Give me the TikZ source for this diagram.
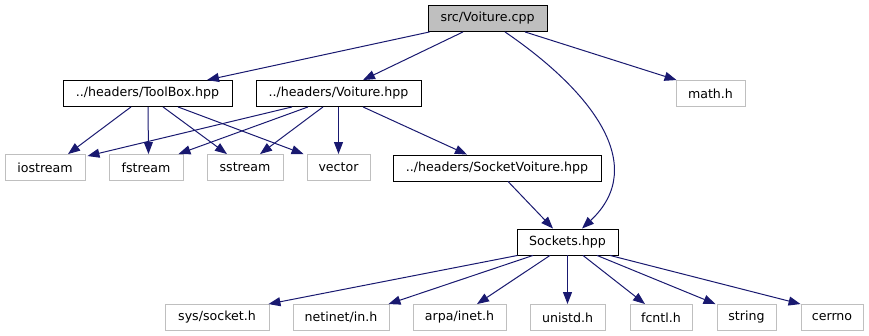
\documentclass[tikz,border=0pt]{standalone}
\usepackage{fontspec}
\setmainfont{DejaVu Sans}
\usetikzlibrary{arrows.meta}
\definecolor{dotblue}{HTML}{191970}
\definecolor{dotgray}{HTML}{BFBFBF}

\begin{document}
\begin{tikzpicture}[x=1pt, y=-1pt]
        \tikzstyle{fis} = [draw=black, line width=0.9pt, inner sep=0pt, minimum height=26pt, font=\fontsize{12.6}{14}\selectfont]
        \tikzstyle{sis} = [fis, draw=dotgray]
        \tikzstyle{rad} = [fis, fill=dotgray]
        \tikzstyle{dep} = [-{Triangle[length=12pt, width=9pt]}, draw=dotblue, line width=1pt]

        \useasboundingbox (0,0) rectangle (869,336);

        % The source file.
        \node[rad, minimum width=119pt] (cpp) at (487.5,18.5) {src/Voiture.cpp};

        % Project headers.
        \foreach \nume/\x/\y/\w/\txt in {
                toolbox/147.5/93.5/169/{../headers/ToolBox.hpp},
                  voith/338.5/93.5/165/{../headers/Voiture.hpp},
                  sockv/497/168/208/{../headers/SocketVoiture.hpp},
                sockets/567.5/242/101/{Sockets.hpp}}
            \node[fis, minimum width=\w pt] (\nume) at (\x,\y) {\txt};

        % System headers.
        \foreach \nume/\x/\y/\w/\txt in {
                   math/710.5/93.5/69/{math.h},
               iostream/45/167.5/80/{iostream},
                fstream/146/167.5/74/{fstream},
                sstream/245/167.5/76/{sstream},
                 vector/338.5/167.5/63/{vector},
                syssock/217/317.5/104/{sys/socket.h},
                netinet/341/317.5/96/{netinet/in.h},
                   arpa/459.5/317.5/93/{arpa/inet.h},
                 unistd/567.5/317.5/75/{unistd.h},
                  fcntl/661/317.5/62/{fcntl.h},
                 string/746.5/317.5/59/{string},
                 cerrno/832/317.5/62/{cerrno}}
            \node[sis, minimum width=\w pt] (\nume) at (\x,\y) {\txt};

        % Includes of src/Voiture.cpp.
        \draw[dep] ([xshift=2]cpp.south west) -- ([xshift=59.5]toolbox.north);
        \draw[dep] ([xshift=-24.5]cpp.south) -- ([xshift=24.5]voith.north);
        \draw[dep] ([xshift=37.5]cpp.south) -- ([xshift=1]math.north west);
        \draw[dep] ([xshift=17.5]cpp.south) .. controls (590,90) and (650,165) .. ([xshift=14.5]sockets.north);

        % Includes of ToolBox.hpp.
        \draw[dep] ([xshift=-16.5]toolbox.south) -- ([xshift=23]iostream.north);
        \draw[dep] ([xshift=0.5]toolbox.south) -- ([xshift=2.5]fstream.north);
        \draw[dep] ([xshift=15.5]toolbox.south) -- ([xshift=-18]sstream.north);
        \draw[dep] ([xshift=30.5]toolbox.south) -- ([xshift=-3]vector.north west);

        % Includes of Voiture.hpp.
        \draw[dep] ([xshift=-46.5]voith.south) -- ([xshift=2, yshift=-2]iostream.north east);
        \draw[dep] ([xshift=-30.5]voith.south) -- ([xshift=-5]fstream.north east);
        \draw[dep] ([xshift=-15.5]voith.south) -- ([xshift=15]sstream.north);
        \draw[dep] (voith) -- (vector);
        \draw[dep] ([xshift=24.5]voith.south) -- ([xshift=-30]sockv.north);

        % Includes of SocketVoiture.hpp.
        \draw[dep] ([xshift=11]sockv.south) -- ([xshift=-14.5]sockets.north);

        % Includes of Sockets.hpp.
        \draw[dep] ([xshift=1]sockets.south west) -- ([xshift=-1]syssock.north east);
        \draw[dep] ([xshift=-34.5]sockets.south) -- ([xshift=-1]netinet.north east);
        \draw[dep] ([xshift=-17.5]sockets.south) -- ([xshift=17.5]arpa.north);
        \draw[dep] (sockets) -- (unistd);
        \draw[dep] ([xshift=15.5]sockets.south) -- ([xshift=-16]fcntl.north);
        \draw[dep] ([xshift=29.5]sockets.south) -- ([xshift=-1]string.north west);
        \draw[dep] ([xshift=42.5]sockets.south) -- (cerrno.north west);
\end{tikzpicture}
\end{document}
